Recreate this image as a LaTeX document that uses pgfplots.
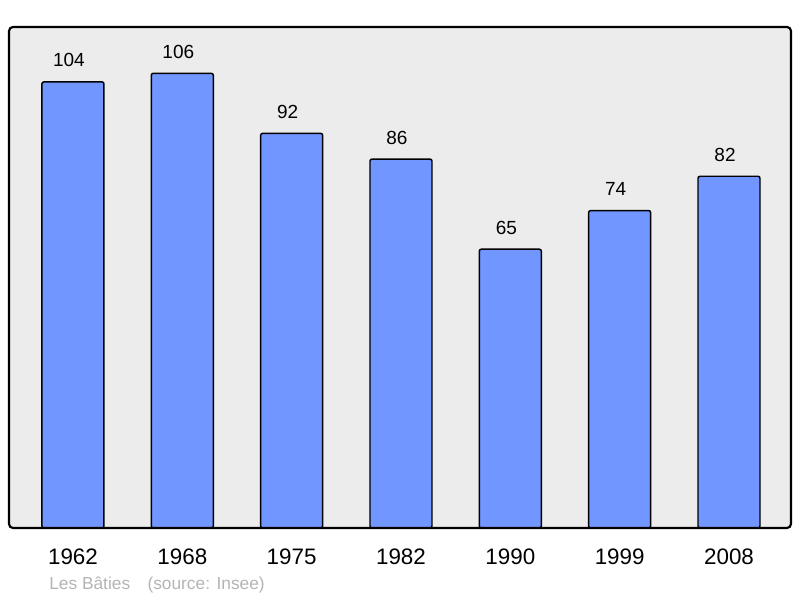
\documentclass[border=0pt]{standalone}
\usepackage{pgfplots}
\pgfplotsset{compat=1.18}
\usepackage{fontspec}
\setmainfont{Liberation Sans}
\definecolor{bgc}{HTML}{ECECEC}
\definecolor{barc}{HTML}{7296FF}
\definecolor{footc}{HTML}{B4B4B4}
\begin{document}
\begin{tikzpicture}
\useasboundingbox (0pt,0pt) rectangle (600pt,448.5pt);
\begin{axis}[
  at={(6.75pt,52.5pt)}, anchor=south west,
  scale only axis, width=586.5pt, height=375.75pt,
  xmin=-0.585, xmax=6.567, ymin=0, ymax=116.8,
  axis line style={draw=none},
  axis background/.style={fill=bgc},
  ytick=\empty,
  xtick={0,1,2,3,4,5,6},
  xticklabels={1962,1968,1975,1982,1990,1999,2008},
  major tick length=0pt,
  xticklabel style={font=\fontsize{16.8}{18}\selectfont, anchor=base, yshift=-27.5pt},
  /pgf/number format/assume math mode=true,
  ybar, bar width=46.5pt,
  nodes near coords={\pgfmathprintnumber[assume math mode=true]{\pgfplotspointmeta}},
  every node near coord/.style={font=\fontsize{14.25}{16}\selectfont, anchor=base, yshift=11.25pt, xshift=-3pt},
  clip=false,
]
\addplot[fill=barc, draw=black, line width=1.1pt, rounded corners=1.5pt] coordinates {
  (0,104) (1,106) (2,92) (3,86) (4,65) (5,74) (6,82)};
\draw[line width=1.6pt, rounded corners=3pt] (rel axis cs:0,0) rectangle (rel axis cs:1,1);
\end{axis}
\node[anchor=base west, text=footc, font=\fontsize{13}{15}\selectfont, inner sep=0pt] at (36.75pt,6pt) {Les Bâties\hspace{13pt}(source: Insee)};
\end{tikzpicture}
\end{document}
